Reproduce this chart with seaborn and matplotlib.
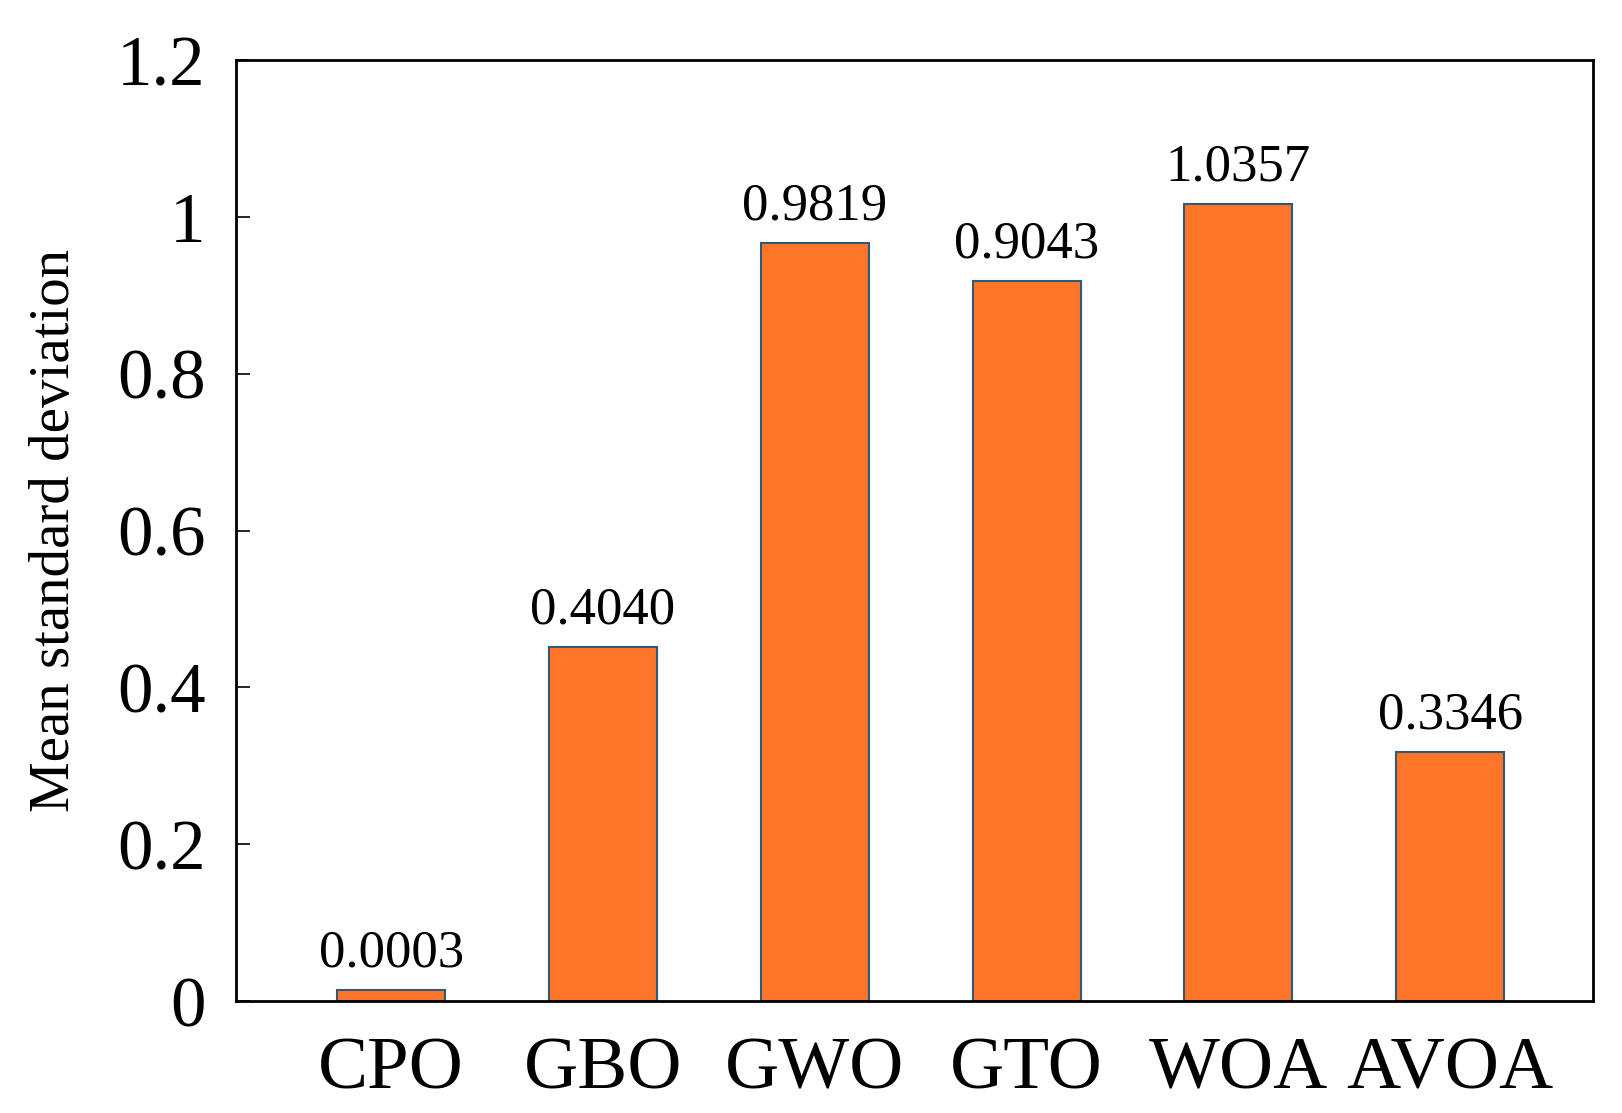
import matplotlib
matplotlib.use("Agg")
import matplotlib.pyplot as plt
import seaborn as sns
import pandas as pd
from matplotlib.ticker import FuncFormatter

# bar heights as drawn, and the printed value labels
algorithms = ["CPO", "GBO", "GWO", "GTO", "WOA", "AVOA"]
bar_heights = [0.0145, 0.451, 0.967, 0.918, 1.017, 0.318]
value_labels = ["0.0003", "0.4040", "0.9819", "0.9043", "1.0357", "0.3346"]
y_ticks = [0, 0.2, 0.4, 0.6, 0.8, 1.0, 1.2]

sns.set_style("white")
plt.rcParams["font.family"] = ["Liberation Serif", "DejaVu Serif"]
plt.rcParams["text.color"] = "black"
plt.rcParams["axes.labelcolor"] = "black"
plt.rcParams["xtick.color"] = "black"
plt.rcParams["ytick.color"] = "black"

df = pd.DataFrame({"algorithm": algorithms, "value": bar_heights})

fig = plt.figure(figsize=(16.22, 11.13), dpi=100)
ax = fig.add_axes([0.1455, 0.1006, 0.8366, 0.8454])

sns.barplot(data=df, x="algorithm", y="value", order=algorithms,
            color="#FF762B", saturation=1, width=0.51,
            edgecolor="#2E5A78", linewidth=1.5, ax=ax)

for i, (h, lab) in enumerate(zip(bar_heights, value_labels)):
    ax.annotate(lab, (i, h), xytext=(0, 9), textcoords="offset points",
                ha="center", va="bottom", fontsize=38)

ax.set_xlim(-0.733, 5.674)
ax.set_ylim(0, 1.2)
ax.set_yticks(y_ticks)
ax.yaxis.set_major_formatter(FuncFormatter(lambda v, p: f"{v:g}"))
ax.tick_params(axis="y", left=True, direction="in", length=10, width=1.2,
               labelsize=51, pad=22)
ax.tick_params(axis="x", bottom=False, length=0, labelsize=54, pad=26)
ax.set_xlabel("")
ax.set_ylabel("Mean standard deviation", fontsize=41, labelpad=26)

for sp in ax.spines.values():
    sp.set_visible(True)
    sp.set_color("black")
    sp.set_linewidth(2)

fig.savefig("out.png", dpi=100)
